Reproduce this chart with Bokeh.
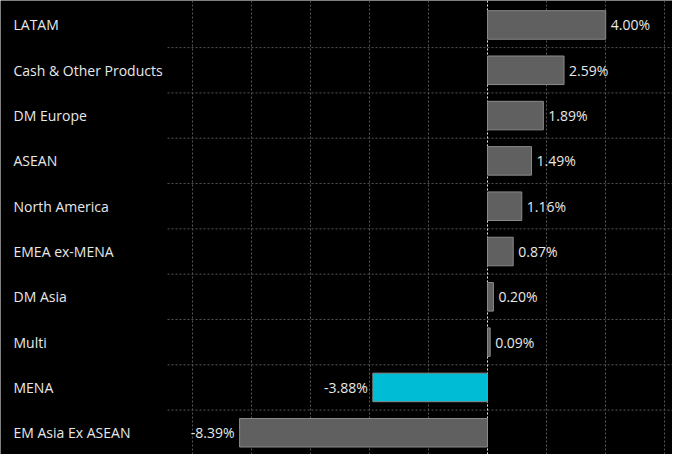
from bokeh.plotting import figure
from bokeh.models import Range1d, FixedTicker, Span, ColumnDataSource, Grid
from bokeh.core.properties import value
from bokeh.embed import file_html
from bokeh.resources import INLINE

# ---- data (top to bottom) ----
categories = ["LATAM", "Cash & Other Products", "DM Europe", "ASEAN",
              "North America", "EMEA ex-MENA", "DM Asia", "Multi",
              "MENA", "EM Asia Ex ASEAN"]
values = [4.00, 2.59, 1.89, 1.49, 1.16, 0.87, 0.20, 0.09, -3.88, -8.39]
highlight = "MENA"
x_ticks = [-10, -8, -6, -4, -2, 0, 2, 4, 6]

n = len(categories)
ypos = [n - 0.5 - i for i in range(n)]
row_bounds = list(range(1, n))
fills = ["#00bcd4" if c == highlight else "#606060" for c in categories]
labels = [f"{v:.2f}%" for v in values]

FONT = value("Open Sans")
TXT = "#e8e8e8"
BG = "#000000"
FS = "14px"
GRID = "#555555"

W, H = 672, 454
PX_PER_UNIT = 29.55          # pixels per percentage point
ZERO_PX = 487                # pixel column of the zero line
x0 = -ZERO_PX / PX_PER_UNIT
x1 = (W - ZERO_PX) / PX_PER_UNIT
label_x = x0 + 13 / PX_PER_UNIT
grid_left = x0 + 167 / PX_PER_UNIT

p = figure(width=W, height=H, x_range=Range1d(x0, x1), y_range=Range1d(0.02, 10.04),
           x_axis_location=None, y_axis_location=None,
           toolbar_location=None, output_backend="svg", min_border=0,
           background_fill_color=BG, border_fill_color=BG,
           outline_line_color=None)
p.grid.visible = False

# vertical grid
p.add_layout(Grid(dimension=0, ticker=FixedTicker(ticks=x_ticks),
                  grid_line_color=GRID, grid_line_dash="2 2",
                  grid_line_width=1))
# horizontal separators between rows (start right of the label column)
p.segment(x0=[grid_left] * len(row_bounds), x1=[x1] * len(row_bounds),
          y0=row_bounds, y1=row_bounds, line_color=GRID, line_dash="2 2",
          line_width=1, level="underlay")
# zero line
p.add_layout(Span(location=0, dimension="height", line_color="#e0e0e0",
                  line_dash="2 2", line_width=1, level="underlay"))

# category labels
p.text(x=[label_x] * n, y=ypos, text=categories, text_font=FONT,
       text_font_size=FS, text_color=TXT, text_baseline="middle",
       text_align="left")

src = ColumnDataSource(dict(y=ypos, v=values, fill=fills, lab=labels))
p.hbar(y="y", left=0, right="v", height=0.63, fill_color="fill",
       line_color="#8a8a8a", line_width=1, source=src)

pos = ColumnDataSource(dict(y=[y for y, v in zip(ypos, values) if v >= 0],
                            v=[v for v in values if v >= 0],
                            lab=[l for l, v in zip(labels, values) if v >= 0]))
neg = ColumnDataSource(dict(y=[y for y, v in zip(ypos, values) if v < 0],
                            v=[v for v in values if v < 0],
                            lab=[l for l, v in zip(labels, values) if v < 0]))
p.text(x="v", y="y", text="lab", source=pos, x_offset=5, text_font=FONT,
       text_font_size=FS, text_color=TXT, text_baseline="middle",
       text_align="left")
p.text(x="v", y="y", text="lab", source=neg, x_offset=-5, text_font=FONT,
       text_font_size=FS, text_color=TXT, text_baseline="middle",
       text_align="right")

open("out.html", "w").write(file_html(p, INLINE))
